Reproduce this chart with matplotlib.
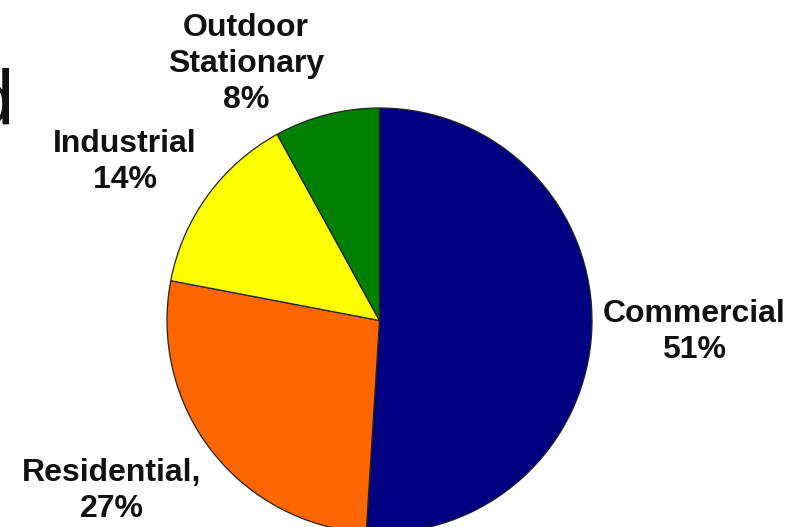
import matplotlib
matplotlib.use("Agg")
import matplotlib.pyplot as plt

# Data
categories = ["Commercial", "Residential,", "Industrial", "Outdoor\nStationary"]
shares = [51, 27, 14, 8]
colors = ["#000080", "#FF6600", "#FFFF00", "#008000"]

W, H = 800, 527
fig = plt.figure(figsize=(W / 100, H / 100), dpi=100)
fig.patch.set_facecolor("white")

# pie geometry (pixels)
cx, cy, r = 379.5, 320.5, 212.5
ax = fig.add_axes([(cx - r) / W, 1 - (cy + r) / H, 2 * r / W, 2 * r / H])
ax.pie(shares, colors=colors, startangle=90, counterclock=False,
       wedgeprops=dict(edgecolor="#222222", linewidth=0.9))
ax.set_xlim(-1, 1)
ax.set_ylim(-1, 1)
ax.set_aspect("equal")
ax.axis("off")

def px(x, y):
    return x / W, 1 - y / H

# label positions: last-line baseline in pixels
label_pos = [(694, 358), (112, 517), (125, 188), (246, 108)]
font = dict(family=["Liberation Sans", "DejaVu Sans"], fontweight="bold", fontsize=23)
for name, v, (x, y) in zip(categories, shares, label_pos):
    fx, fy = px(x, y)
    fig.text(fx, fy, f"{name}\n{v}%", ha="center", va="baseline",
             multialignment="center", linespacing=1.25, color="#111111", **font)

# cropped title fragment at the left edge
fx, fy = px(14, 125)
fig.text(fx, fy, "d", ha="right", va="baseline", fontsize=56,
         family=["Liberation Sans", "DejaVu Sans"], color="#111111")

fig.savefig("out.png", dpi=100, facecolor="white")
